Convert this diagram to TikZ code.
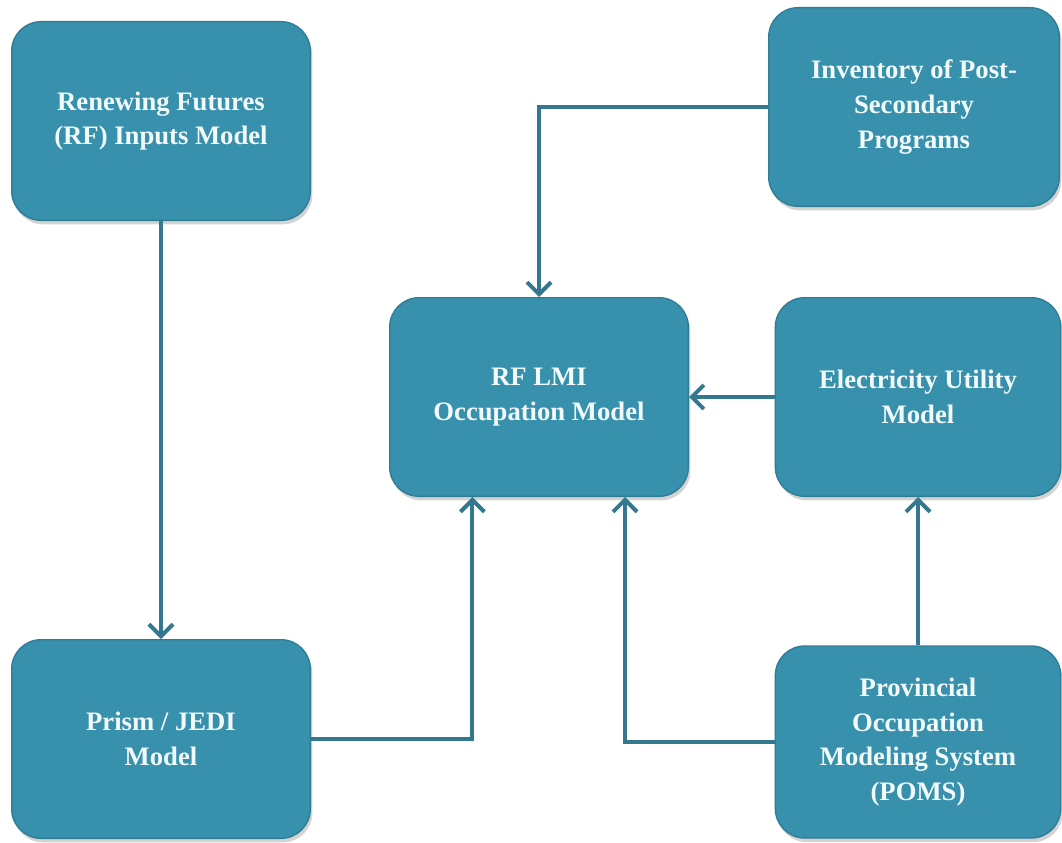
\documentclass[tikz,border=0pt]{standalone}
\usepackage{fontspec}
\setmainfont{Liberation Serif}
\usetikzlibrary{arrows.meta,shadows}

\definecolor{boxblue}{HTML}{3790AC}
\definecolor{boxedge}{HTML}{2F7C94}
\definecolor{linkblue}{HTML}{33788E}
\definecolor{boxtext}{HTML}{F2F9FB}

\begin{document}
\begin{tikzpicture}[x=0.75pt,y=-0.75pt]
\useasboundingbox (0,0) rectangle (1062,842);
  \begin{scope}[every node/.style={draw=boxedge,line width=1pt,fill=boxblue,
      rounded corners=22pt,minimum height=149pt,align=center,
      text=boxtext,font=\bfseries\fontsize{20}{26}\selectfont,
      drop shadow={opacity=0.35,shadow xshift=1.5pt,shadow yshift=-3pt}}]
    \node [minimum width=224pt] at (161,121) (rfin) {Renewing Futures\\(RF) Inputs Model};
    \node [minimum width=218pt] at (914,107) (inv) {Inventory of Post-\\Secondary\\Programs};
    \node [minimum width=224pt] at (539,397) (lmi) {RF LMI\\Occupation Model};
    \node [minimum width=214pt] at (918,397) (elec) {Electricity Utility\\Model};
    \node [minimum width=214pt,minimum height=144pt] at (918,742) (poms) {Provincial\\Occupation\\Modeling System\\(POMS)};
    \node [minimum width=224pt] at (161,739) (prism) {Prism / JEDI\\Model};
  \end{scope}

  \begin{scope}[every path/.style={draw=linkblue,line width=3pt,
      -{Straight Barb[length=9pt,width=18pt]}}]
    \path (rfin) -- (prism);
    \path (inv.west) -| (lmi.north);
    \path (elec) -- (lmi);
    \path (prism.east) -| ([xshift=-50pt]lmi.south);
    \path (poms.west) -| ([xshift=64.5pt]lmi.south);
    \path (poms) -- (elec);
  \end{scope}
\end{tikzpicture}
\end{document}
